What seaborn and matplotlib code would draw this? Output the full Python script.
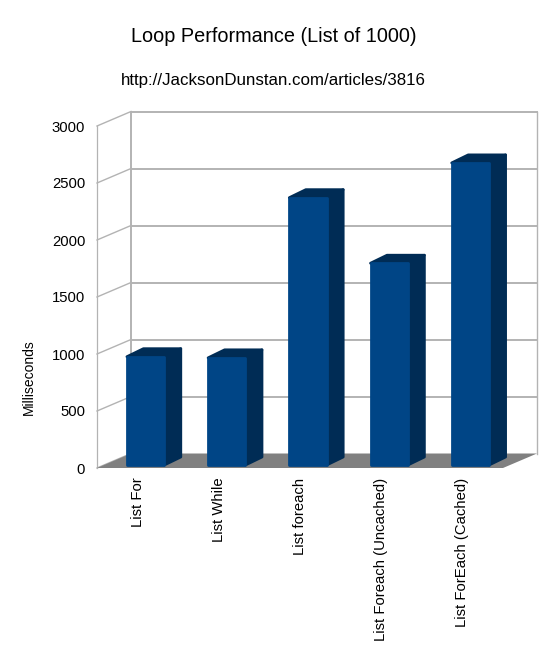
import seaborn as sns
import matplotlib.pyplot as plt
from matplotlib.patches import Polygon
from matplotlib.transforms import Affine2D, IdentityTransform

labels = ["List For", "List While", "List foreach", "List Foreach (Uncached)", "List ForEach (Cached)"]
times = [950, 940, 2345, 1770, 2650]
y_ticks = [0, 500, 1000, 1500, 2000, 2500, 3000]

W, H = 550, 660
FRONT, SIDE = "#004586", "#002c55"
GRID = "#b3b3b3"
# 3d look, all in pixels
wall_dx, wall_dy = 34, 14.5
bar_dx, bar_dy = 8, 3
side_dx, side_dy = 16.5, 8

sns.set_theme(style="white")
plt.rcParams["font.family"] = ["Liberation Sans", "DejaVu Sans"]

fig = plt.figure(figsize=(W / 100, H / 100), dpi=100)
ax = fig.add_axes([97 / W, (H - 468) / H, 406 / W, 356 / H])

sns.barplot(x=labels, y=times, color=FRONT, saturation=1, width=0.46, ax=ax, zorder=4)
ax.set_xlim(-0.5, 4.5)
ax.set_ylim(0, 356 / 0.114)
ax.set_yticks(y_ticks)
sns.despine(ax=ax, left=True, bottom=True, top=True, right=True)
ax.patch.set_alpha(0)
ax.tick_params(axis="y", length=0, pad=8.5, labelsize=10.7, colors="black")
ax.tick_params(axis="x", length=0, pad=7, labelsize=10.7, colors="black")
plt.setp(ax.get_xticklabels(), rotation=90, ha="center", va="top")

ax.set_ylabel("Milliseconds", fontsize=10, color="black")
ax.yaxis.set_label_coords((36 - 97) / 406, (468 - 377) / 356)

px = IdentityTransform()


def to_px(x, v, dx=0, dy=0):
    a, b = ax.transData.transform((x, v))
    return a + dx, b + dy


def wall_line(p, q, lw=1.1):
    ax.plot([p[0], q[0]], [p[1], q[1]], color=GRID, lw=lw, transform=px, clip_on=False, zorder=1,
            solid_capstyle="projecting")


x0, x1 = ax.get_xlim()
top = y_ticks[-1]

for v in y_ticks:
    wall_line(to_px(x0, v), to_px(x0, v, wall_dx, wall_dy), 1.0)
    if v > 0:
        wall_line(to_px(x0, v, wall_dx, wall_dy), to_px(x1, v, wall_dx, wall_dy), 1.4)
wall_line(to_px(x0, 0), to_px(x0, top), 0.9)
wall_line(to_px(x0, 0, wall_dx, wall_dy), to_px(x0, top, wall_dx, wall_dy), 1.4)
wall_line(to_px(x1, 0, wall_dx, wall_dy), to_px(x1, top, wall_dx, wall_dy), 1.0)

floor = [to_px(x0, 0), to_px(x1, 0), to_px(x1, 0, wall_dx, wall_dy), to_px(x0, 0, wall_dx, wall_dy)]
ax.add_patch(Polygon(floor, closed=True, fc="#808080", ec="none", transform=px, clip_on=False, zorder=2))

# depth faces for each bar, then push the front faces off the wall plane
for bar in ax.patches[:len(times)]:
    left, right = bar.get_x(), bar.get_x() + bar.get_width()
    h = bar.get_height()
    a = to_px(right, 0, bar_dx, bar_dy)
    b = to_px(right, h, bar_dx, bar_dy)
    c = to_px(left, h, bar_dx, bar_dy)
    side = [a, b, (b[0] + side_dx, b[1] + side_dy), (a[0] + side_dx, a[1] + side_dy)]
    lid = [c, b, (b[0] + side_dx, b[1] + side_dy), (c[0] + side_dx, c[1] + side_dy)]
    for pts in (side, lid):
        ax.add_patch(Polygon(pts, closed=True, fc=SIDE, ec=SIDE, lw=2, joinstyle="round",
                             transform=px, clip_on=False, zorder=3))
    bar.set_transform(ax.transData + Affine2D().translate(bar_dx, bar_dy))
    bar.set_edgecolor(FRONT)
    bar.set_linewidth(2)
    bar.set_joinstyle("round")
    bar.set_clip_on(False)

fig.text(273.5 / W, 1 - 37 / H, "Loop Performance (List of 1000)", ha="center", va="center",
         fontsize=14.3, color="black")
fig.text(273.5 / W, 1 - 81 / H, "http://JacksonDunstan.com/articles/3816", ha="center", va="center",
         fontsize=12.15, color="black")

fig.savefig("out.png", dpi=100, facecolor="white")
